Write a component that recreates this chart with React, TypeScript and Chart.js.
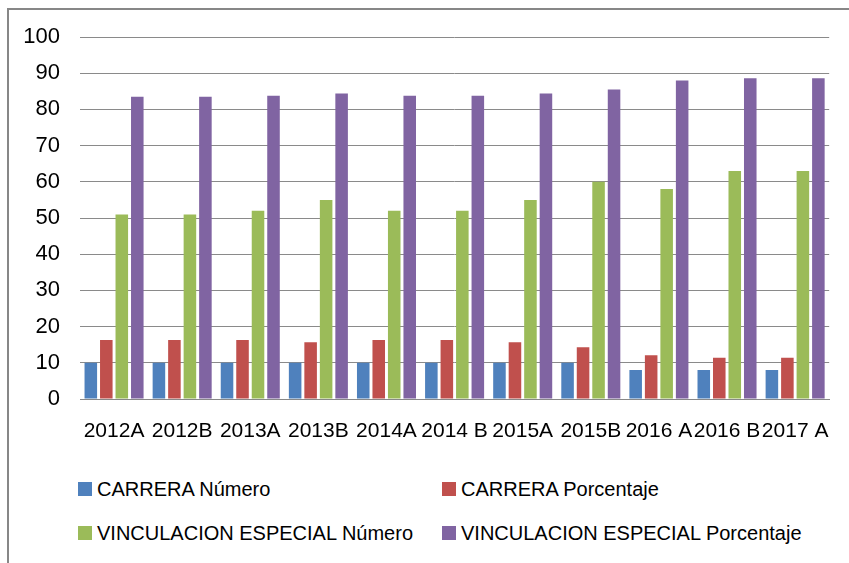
import React, { useEffect, useRef } from "react";
import { Chart, registerables } from "chart.js";

Chart.register(...registerables);

const categories = ["2012A", "2012B", "2013A", "2013B", "2014A", "2014 B", "2015A", "2015B", "2016 A", "2016 B", "2017 A"];
const carreraNumero = [10, 10, 10, 10, 10, 10, 10, 10, 8, 8, 8];
const carreraPorcentaje = [16.3, 16.3, 16.3, 15.7, 16.3, 16.3, 15.7, 14.3, 12.1, 11.4, 11.4];
const vincNumero = [51, 51, 52, 55, 52, 52, 55, 60, 58, 63, 63];
const vincPorcentaje = [83.5, 83.5, 83.8, 84.4, 83.8, 83.8, 84.4, 85.5, 88, 88.6, 88.6];
const seriesNames = ["CARRERA Número", "CARRERA Porcentaje", "VINCULACION ESPECIAL Número", "VINCULACION ESPECIAL Porcentaje"];
const seriesColors = ["#4F81BD", "#C0504D", "#9BBB59", "#8064A2"];

const FONT = "'Liberation Sans', Arial, sans-serif";

export default function App() {
  const ref = useRef<HTMLCanvasElement | null>(null);
  useEffect(() => {
    if (!ref.current) return;
    const values = [carreraNumero, carreraPorcentaje, vincNumero, vincPorcentaje];
    const chart = new Chart(ref.current, {
      type: "bar",
      data: {
        labels: categories,
        datasets: values.map((v, i) => ({
          label: seriesNames[i],
          data: v,
          backgroundColor: seriesColors[i],
          borderWidth: 0,
          categoryPercentage: 0.91,
          barPercentage: 0.81,
        })),
      },
      options: {
        responsive: false,
        animation: false,
        devicePixelRatio: 1,
        layout: { padding: { top: 37, right: 13, left: 0, bottom: 0 } },
        plugins: { legend: { display: false }, tooltip: { enabled: false } },
        scales: {
          x: {
            grid: { display: false, drawTicks: false },
            border: { display: true, color: "#888888", width: 1 },
            ticks: {
              autoSkip: false,
              maxRotation: 0,
              minRotation: 0,
              padding: 20,
              color: "#000000",
              font: { family: FONT, size: 21 },
            },
            afterFit: (s: any) => { s.height = 61; },
          },
          y: {
            min: 0,
            max: 100,
            grid: { color: "#8a8a8a", lineWidth: 1, drawTicks: false },
            border: { display: false },
            ticks: {
              stepSize: 10,
              padding: 20,
              color: "#000000",
              font: { family: FONT, size: 22 },
            },
            afterFit: (s: any) => { s.width = 80; },
          },
        },
      },
    });
    return () => chart.destroy();
  }, []);

  const legendPos = [
    { x: 78, y: 489 },
    { x: 442, y: 489 },
    { x: 78, y: 533 },
    { x: 442, y: 533 },
  ];

  return (
    <div style={{ position: "absolute", left: 0, top: 0, width: 849, height: 563, overflow: "hidden", background: "#fff" }}>
      <div style={{ position: "absolute", left: 7, top: 8, width: 900, height: 600, border: "2px solid #878787", boxSizing: "border-box" }} />
      <canvas ref={ref} width={849} height={460} style={{ position: "absolute", left: 0, top: 0, width: 849, height: 460 }} />
      {seriesNames.map((n, i) => (
        <div key={n}>
          <div style={{ position: "absolute", left: legendPos[i].x, top: legendPos[i].y - 7, width: 14, height: 14, background: seriesColors[i] }} />
          <div style={{ position: "absolute", left: legendPos[i].x + 19, top: legendPos[i].y - 12, lineHeight: "24px", fontSize: 20, fontFamily: FONT, color: "#000", whiteSpace: "nowrap" }}>{n}</div>
        </div>
      ))}
    </div>
  );
}
